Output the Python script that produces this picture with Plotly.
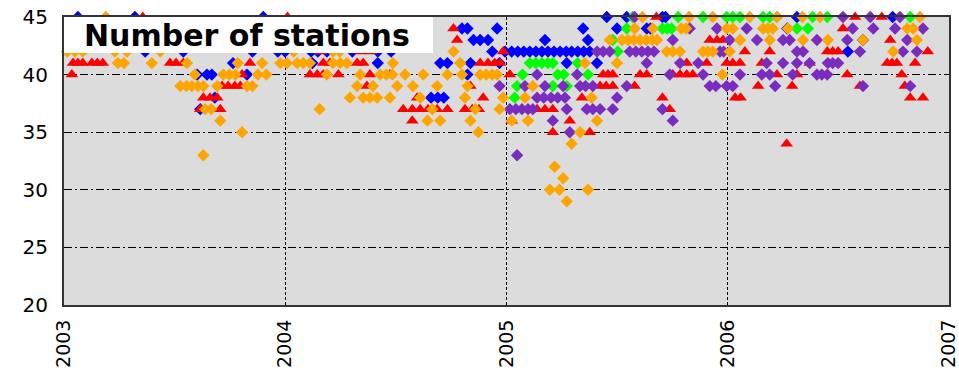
import plotly.graph_objects as go

# ---- daily station counts per network (date, number of stations) ----
blue_dates = [
    "2003-01-24", "2003-04-28", "2003-11-26",
    "2003-05-15", "2003-07-17", "2003-11-08", "2003-12-20",
    "2003-10-07",
    "2003-08-09", "2003-08-25", "2003-09-02", "2003-10-30",
    "2003-09-07", "2003-08-14",
    "2004-01-01", "2004-02-13", "2004-02-24", "2004-03-10", "2004-04-21", "2004-06-02", "2004-06-24",
    "2004-02-15", "2004-06-02", "2004-09-13", "2004-09-25", "2004-11-02",
    "2004-10-28",
    "2004-08-29", "2004-09-09", "2004-09-19",
    "2004-10-19", "2004-10-28", "2004-12-16",
    "2004-11-07", "2004-11-18", "2004-12-01",
    "2004-12-08", "2004-12-20",
    "2004-12-29", "2005-01-09", "2005-01-19", "2005-01-29", "2005-02-08", "2005-02-18", "2005-02-28",
    "2005-03-10", "2005-03-20", "2005-03-30", "2005-04-09", "2005-04-18", "2005-04-28", "2005-05-08", "2005-05-18",
    "2005-03-05", "2005-05-15",
    "2005-05-07", "2005-07-02", "2005-08-20", "2005-08-26",
    "2005-06-15", "2005-07-18", "2005-09-15", "2005-09-20",
    "2005-04-10", "2005-05-30",
    "2006-04-25", "2006-09-30", "2006-07-18", "2006-04-09", "2006-08-12",
]
blue_stations = [
    45, 45, 45,
    42, 42, 42, 42,
    41,
    40, 40, 40, 40,
    38, 37,
    42, 42, 42, 42, 42, 42, 42,
    41, 41, 41, 41, 41,
    40,
    38, 38, 38,
    44, 44, 44,
    43, 43, 43,
    42, 41,
    42, 42, 42, 42, 42, 42, 42,
    42, 42, 42, 42, 42, 42, 42, 42,
    43, 43,
    44, 44, 44, 44,
    45, 45, 45, 45,
    41, 41,
    45, 45, 42, 44, 43,
]

red_dates = [
    "2003-05-11",
    "2003-01-16", "2003-01-24", "2003-02-01", "2003-02-16", "2003-02-25", "2003-03-06",
    "2003-06-25", "2003-07-05", "2003-07-17", "2003-11-04",
    "2003-01-14", "2003-10-22",
    "2003-07-23", "2003-09-19", "2003-09-29", "2003-10-10", "2003-10-19",
    "2003-08-19", "2003-08-30", "2003-09-11",
    "2003-08-14", "2003-09-16",
    "2004-01-05", "2004-10-05", "2004-10-11",
    "2004-02-29", "2004-05-04", "2004-05-22", "2004-12-26",
    "2004-03-04", "2004-03-15", "2004-04-29", "2004-05-09", "2004-11-18", "2004-12-01", "2004-12-12", "2004-12-21",
    "2004-02-11", "2004-02-23", "2004-03-04", "2004-03-29", "2004-05-20", "2004-06-22",
    "2004-05-15", "2004-11-02",
    "2004-08-06", "2004-11-23",
    "2004-07-14", "2004-07-29", "2004-08-11", "2004-08-24", "2004-09-08", "2004-09-25",
    "2004-10-24", "2004-11-05", "2004-11-16",
    "2004-07-29",
    "2005-09-05",
    "2005-12-02", "2005-12-14", "2005-12-24",
    "2005-10-25", "2005-11-27",
    "2005-01-06", "2005-06-09", "2005-06-17", "2005-06-25", "2005-08-09", "2005-08-20",
    "2005-10-02", "2005-10-14", "2005-10-25", "2005-11-04",
    "2005-06-04", "2005-06-14", "2005-06-25", "2005-07-31",
    "2005-05-05", "2005-09-15",
    "2005-02-20", "2005-03-05", "2005-03-18", "2005-09-27",
    "2005-01-09", "2005-04-15",
    "2005-03-18", "2005-05-18",
    "2006-07-30", "2006-09-12",
    "2006-07-10",
    "2006-09-26",
    "2006-01-29", "2006-03-11", "2006-06-14", "2006-06-23", "2006-07-02", "2006-11-27",
    "2005-12-30", "2006-01-09", "2006-01-21", "2006-02-26", "2006-05-16",
    "2006-09-21", "2006-09-29", "2006-10-07", "2006-11-06",
    "2006-03-23", "2006-04-25", "2006-07-17", "2006-10-15",
    "2006-02-20", "2006-04-17", "2006-08-07", "2006-10-20",
    "2006-01-13", "2006-01-22", "2006-10-29", "2006-11-19",
    "2006-04-08",
]
red_stations = [
    45,
    41, 41, 41, 41, 41, 41,
    41, 41, 41, 41,
    40, 40,
    39, 39, 39, 39, 39,
    38, 38, 38,
    37, 37,
    45, 44, 43,
    42, 42, 42, 42,
    41, 41, 41, 41, 41, 41, 41, 41,
    40, 40, 40, 40, 40, 40,
    39, 39,
    38, 38,
    37, 37, 37, 37, 37, 37,
    37, 37, 37,
    36,
    45,
    43, 43, 43,
    41, 41,
    40, 40, 40, 40, 40, 40,
    40, 40, 40, 40,
    39, 39, 39, 39,
    38, 38,
    37, 37, 37, 37,
    36, 36,
    35, 35,
    45, 45,
    44,
    43,
    42, 42, 42, 42, 42, 42,
    41, 41, 41, 41, 41,
    41, 41, 41, 41,
    40, 40, 40, 40,
    39, 39, 39, 39,
    38, 38, 38, 38,
    34,
]

green_dates = [
    "2005-07-28", "2005-10-11", "2005-11-21", "2005-12-30", "2006-01-09", "2006-01-21",
    "2006-02-28", "2006-03-11", "2006-03-23", "2006-05-21", "2006-06-14", "2006-10-29",
    "2005-07-18", "2005-09-15", "2005-09-23", "2005-09-30", "2006-04-25", "2006-05-13",
    "2005-06-25",
    "2005-07-03",
    "2005-02-08", "2005-02-18", "2005-02-28", "2005-03-10", "2005-03-18", "2005-04-28",
    "2005-01-27", "2005-03-26", "2005-04-05", "2005-05-15",
    "2005-01-18", "2005-03-18", "2005-04-10",
    "2005-01-14",
]
green_stations = [
    45, 45, 45, 45, 45, 45,
    45, 45, 45, 45, 45, 45,
    44, 44, 44, 44, 44, 44,
    43,
    42,
    41, 41, 41, 41, 41, 41,
    40, 40, 40, 40,
    39, 39, 39,
    38,
]

purple_dates = [
    "2005-07-31", "2006-07-10", "2006-08-24", "2006-10-12",
    "2005-10-30", "2005-12-14", "2006-02-01", "2006-07-26", "2006-08-29", "2006-10-04", "2006-11-19",
    "2005-10-02", "2006-01-04", "2006-02-18", "2006-04-02", "2006-04-13", "2006-05-28", "2006-07-17", "2006-10-24",
    "2005-05-30", "2005-06-09", "2005-06-20", "2005-07-23", "2005-08-02", "2005-08-12", "2005-08-22",
    "2005-09-01", "2005-12-19", "2005-12-25", "2006-04-25", "2006-05-05", "2006-08-07", "2006-10-17", "2006-11-09",
    "2005-08-20", "2005-10-14", "2005-11-13", "2006-03-06", "2006-04-02", "2006-04-25", "2006-05-16",
    "2006-06-15", "2006-06-23", "2006-07-02",
    "2005-02-20", "2005-04-27", "2005-09-27", "2005-11-21", "2006-01-21", "2006-02-26", "2006-03-11",
    "2006-04-18", "2006-05-28", "2006-06-05", "2006-06-14",
    "2004-12-20", "2005-01-31", "2005-03-05", "2005-04-04", "2005-05-02", "2005-05-11", "2005-05-23",
    "2005-07-18", "2005-12-02", "2005-12-12", "2005-12-30", "2006-01-09", "2006-03-20", "2006-08-12", "2006-10-29",
    "2005-02-20", "2005-03-03", "2005-03-15", "2005-03-26", "2005-04-07", "2005-07-02",
    "2005-01-06", "2005-01-16", "2005-01-26", "2005-02-05", "2005-02-13", "2005-04-10",
    "2005-05-13", "2005-05-23", "2005-06-04", "2005-06-25", "2005-09-15",
    "2005-03-18", "2005-10-02",
    "2005-04-15",
    "2005-01-18",
]
purple_stations = [
    45, 45, 45, 45,
    44, 44, 44, 44, 44, 44, 44,
    43, 43, 43, 43, 43, 43, 43, 43,
    42, 42, 42, 42, 42, 42, 42,
    42, 42, 42, 42, 42, 42, 42, 42,
    41, 41, 41, 41, 41, 41, 41,
    41, 41, 41,
    40, 40, 40, 40, 40, 40, 40,
    40, 40, 40, 40,
    39, 39, 39, 39, 39, 39, 39,
    39, 39, 39, 39, 39, 39, 39, 39,
    38, 38, 38, 38, 38, 38,
    37, 37, 37, 37, 37, 37,
    37, 37, 37, 37, 37,
    36, 36,
    35,
    33,
]

orange_dates = [
    "2003-03-11",
    "2003-01-06", "2003-01-19", "2003-02-01", "2003-03-26", "2003-04-15", "2003-06-09",
    "2003-03-31", "2003-04-10", "2003-05-26", "2003-07-23", "2003-10-15", "2003-11-24", "2003-12-24", "2004-01-04",
    "2003-08-05", "2003-09-21", "2003-10-01", "2003-10-11", "2003-11-17", "2003-12-01",
    "2003-07-12", "2003-07-22", "2003-07-31", "2003-08-10", "2003-08-19", "2003-09-11", "2003-10-30", "2003-11-08",
    "2003-08-22", "2003-09-01",
    "2003-09-16", "2003-10-22", "2003-08-19",
    "2004-01-15", "2004-03-20", "2004-03-31", "2004-10-05",
    "2004-01-21", "2004-01-31", "2004-02-11", "2004-03-20", "2004-04-01", "2004-04-12", "2004-06-27", "2004-10-16",
    "2004-03-10", "2004-05-04", "2004-06-06", "2004-06-16", "2004-06-26", "2004-07-17", "2004-08-16",
    "2004-09-25", "2004-10-19", "2004-11-18", "2004-11-28", "2004-12-08", "2004-12-16",
    "2004-04-29", "2004-05-25", "2004-07-04", "2004-07-30", "2004-09-08", "2004-10-28",
    "2004-04-17", "2004-05-09", "2004-05-20", "2004-06-01", "2004-06-22", "2004-08-11", "2004-10-24", "2004-12-26",
    "2004-02-27", "2004-08-31", "2004-11-10", "2004-12-20",
    "2004-08-23", "2004-09-13", "2004-11-02",
    "2004-11-15",
    "2005-08-13", "2005-10-29", "2005-12-07",
    "2005-07-31", "2005-08-30", "2005-10-16", "2005-10-24",
    "2005-06-20", "2005-07-10", "2005-07-20", "2005-07-30", "2005-08-09", "2005-08-19", "2005-08-29", "2005-09-06",
    "2005-09-22", "2005-10-02", "2005-10-14", "2005-11-21", "2005-11-29", "2005-12-07",
    "2005-05-10", "2005-07-02",
    "2005-12-23",
    "2005-02-13",
    "2005-01-31", "2005-05-21",
    "2005-01-09", "2005-02-05", "2005-05-30",
    "2005-05-02",
    "2005-04-18",
    "2005-03-21",
    "2005-04-04",
    "2005-03-13", "2005-03-29", "2005-05-15",
    "2005-04-10",
    "2006-02-06", "2006-03-23", "2006-05-04", "2006-06-02", "2006-11-14",
    "2005-12-30", "2006-01-09", "2006-02-28", "2006-03-08", "2006-03-16", "2006-04-10", "2006-10-24", "2006-11-03",
    "2006-01-21", "2006-03-11", "2006-05-05", "2006-06-15", "2006-08-12", "2006-11-09",
    "2006-01-04", "2006-10-01",
]
orange_stations = [
    45,
    42, 42, 42, 42, 42, 42,
    41, 41, 41, 41, 41, 41, 41, 41,
    40, 40, 40, 40, 40, 40,
    39, 39, 39, 39, 39, 39, 39, 39,
    37, 37,
    36, 35, 33,
    42, 42, 42, 42,
    41, 41, 41, 41, 41, 41, 41, 41,
    40, 40, 40, 40, 40, 40, 40,
    40, 40, 40, 40, 40, 40,
    39, 39, 39, 39, 39, 39,
    38, 38, 38, 38, 38, 38, 38, 38,
    37, 37, 37, 37,
    36, 36, 36,
    35,
    45, 45, 45,
    44, 44, 44, 44,
    43, 43, 43, 43, 43, 43, 43, 43,
    42, 42, 42, 42, 42, 42,
    41, 41,
    40,
    39,
    38, 38,
    36, 36, 36,
    35,
    34,
    32,
    31,
    30, 30, 30,
    29,
    45, 45, 45, 45, 45,
    44, 44, 44, 44, 44, 44, 44, 44,
    43, 43, 43, 43, 43, 43,
    42, 42,
]

# drawing order: later series sit on top
series = [
    (blue_dates, blue_stations, "#0000ff", "diamond", 9.5),
    (red_dates, red_stations, "#ff0000", "triangle-up", 11),
    (green_dates, green_stations, "#00ff00", "diamond", 9.5),
    (purple_dates, purple_stations, "#7a2cc0", "diamond", 9.5),
    (orange_dates, orange_stations, "#ffa500", "diamond", 9.5),
]

year_ticks = ["2003-01-01", "2004-01-01", "2005-01-01", "2006-01-01", "2007-01-01"]
year_labels = ["2003", "2004", "2005", "2006", "2007"]

fig = go.Figure()
for xs, ys, color, symbol, size in series:
    fig.add_trace(go.Scatter(
        x=xs, y=ys, mode="markers", cliponaxis=False, showlegend=False,
        marker=dict(color=color, symbol=symbol, size=size, line=dict(width=0)),
    ))

font_family = "DejaVu Sans"

fig.update_layout(
    width=959, height=371,
    margin=dict(l=64, r=10, t=17, b=66),
    paper_bgcolor="white",
    plot_bgcolor="#dcdcdc",
    font=dict(family=font_family, size=20, color="black"),
    xaxis=dict(
        type="date", range=["2003-01-01", "2007-01-01"],
        tickvals=year_ticks, ticktext=year_labels, tickangle=-90,
        tickfont=dict(size=19),
        ticks="", ticklabelstandoff=5, automargin=False, ticklabeloverflow="allow",
        showgrid=True, gridcolor="black", gridwidth=1, griddash="3px,2px",
        showline=True, linecolor="#333333", linewidth=2, mirror=True, zeroline=False,
    ),
    yaxis=dict(
        range=[20, 45], tickvals=[20, 25, 30, 35, 40, 45],
        ticks="", ticklabelstandoff=10, automargin=False,
        showgrid=True, gridcolor="black", gridwidth=1, griddash="8px,3px,2px,3px",
        showline=True, linecolor="#333333", linewidth=2, mirror=True, zeroline=False,
    ),
    shapes=[dict(
        type="rect", xref="paper", yref="paper",
        x0=0, x1=0.417, y0=0.875, y1=1.0,
        fillcolor="white", line=dict(width=0), layer="above",
    )],
    annotations=[dict(
        text="<b>Number of stations</b>", xref="paper", yref="paper",
        x=0.02, y=0.9375, xanchor="left", yanchor="middle", showarrow=False,
        font=dict(family=font_family, size=30, color="black"),
    )],
)

fig.write_html("out.html")
